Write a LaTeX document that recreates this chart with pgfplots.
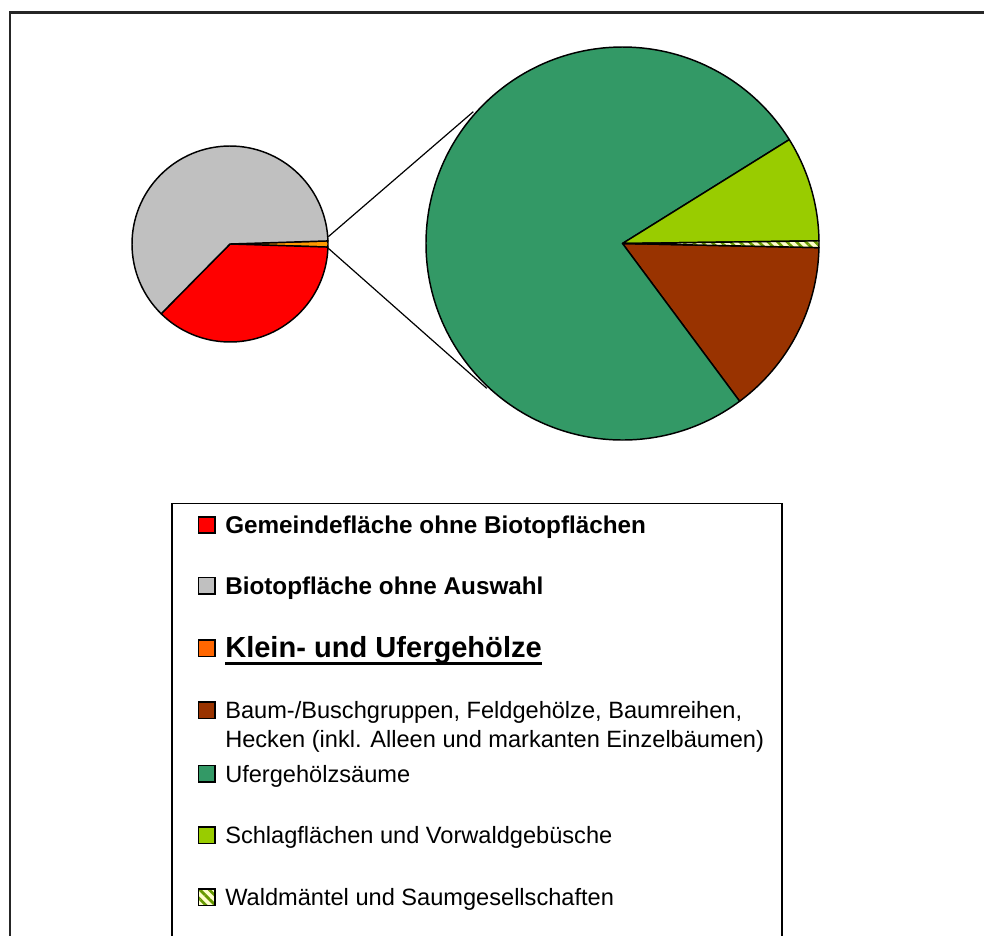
\documentclass[border=0pt]{standalone}
\usepackage{pgfplots}
\pgfplotsset{compat=1.18}
\usepackage{pgfplotstable}
\usetikzlibrary{patterns.meta}
\usepackage{fontspec}
\setmainfont{Liberation Sans}

\definecolor{cRed}{HTML}{FF0000}
\definecolor{cGray}{HTML}{C0C0C0}
\definecolor{cOrange}{HTML}{FF6600}
\definecolor{cOrangeSl}{HTML}{FF9900}
\definecolor{cBrown}{HTML}{993300}
\definecolor{cGreen}{HTML}{339966}
\definecolor{cLime}{HTML}{99CC00}
\definecolor{cPale}{HTML}{FFFFCC}
\definecolor{cStripe}{HTML}{669900}

\tikzset{hatch/.style={preaction={fill=cPale}, pattern={Lines[angle=-45,distance=5pt,line width=2pt]}, pattern color=cStripe}}

% primary pie (percent)
\pgfplotstableread{
name value
Gemeinde 36.9
Biotop 62.1
Klein 1.0
}\primary
% secondary pie (percent of Klein- und Ufergehoelze)
\pgfplotstableread{
name value
Baum 14.5
Ufer 76.3
Schlag 8.65
Wald 0.55
}\secondary

\newcommand\pieslice[6]{% #1 table, #2 row, #3 cx, #4 cy, #5 radius px, #6 style
  \pgfplotstablegetelem{#2}{value}\of{#1}%
  \pgfmathsetmacro\slend{\curang-3.6*\pgfplotsretval}%
  \pgfmathsetmacro\slr{#5*0.75}%
  \edef\doslice{\noexpand\filldraw[#6,line width=1.1pt,line join=round] (axis cs:#3,#4) -- ++(\curang:\slr pt) arc[start angle=\curang, end angle=\slend, radius=\slr pt] -- cycle;}%
  \doslice
  \xdef\curang{\slend}%
}

\newcommand\regfont{\fontsize{17.7}{21}\selectfont}
\newcommand\boldfont{\fontsize{18.2}{21}\selectfont\bfseries}

\begin{document}
\begin{tikzpicture}
\begin{axis}[hide axis, scale only axis, x=0.75pt, y=0.75pt,
  xmin=0, xmax=984, ymin=0, ymax=935, y dir=reverse, clip=false]
\coordinate (BL) at (axis cs:0,935);
\coordinate (TR) at (axis cs:984,0);

% outer frame
\draw[line width=1.7pt, black!85] (axis cs:10,940) -- (axis cs:10,12.5) -- (axis cs:990,12.5);

% primary pie
\xdef\curang{1.8}
\pieslice{\primary}{2}{230}{244}{98}{fill=cOrangeSl}
\pieslice{\primary}{0}{230}{244}{98}{fill=cRed}
\pieslice{\primary}{1}{230}{244}{98}{fill=cGray}

% secondary pie
\xdef\curang{-1.2}
\pieslice{\secondary}{0}{622.5}{243.5}{196.5}{fill=cBrown}
\pieslice{\secondary}{1}{622.5}{243.5}{196.5}{fill=cGreen}
\pieslice{\secondary}{2}{622.5}{243.5}{196.5}{fill=cLime}
\pieslice{\secondary}{3}{622.5}{243.5}{196.5}{hatch}

% connector lines
\addplot[black, no markers, line width=0.9pt] coordinates {(328.3,236.7) (473.3,111.7)};
\addplot[black, no markers, line width=0.9pt] coordinates {(328.3,248.3) (486.7,388.3)};

% legend frame
\draw[line width=1.3pt, black] (axis cs:172,940) -- (axis cs:172,503.5) -- (axis cs:782,503.5) -- (axis cs:782,940);

% legend markers
\filldraw[fill=cRed, line width=0.9pt] (axis cs:198.5,517) rectangle (axis cs:215,533);
\filldraw[fill=cGray, line width=0.9pt] (axis cs:198.5,577.5) rectangle (axis cs:215,594);
\filldraw[fill=cOrange, line width=0.9pt] (axis cs:198.5,640) rectangle (axis cs:215,656.5);
\filldraw[fill=cBrown, line width=0.9pt] (axis cs:198.5,702) rectangle (axis cs:215,718.5);
\filldraw[fill=cGreen, line width=0.9pt] (axis cs:198.5,765.5) rectangle (axis cs:215,782);
\filldraw[fill=cLime, line width=0.9pt] (axis cs:198.5,827) rectangle (axis cs:215,843.5);
\filldraw[hatch, line width=0.9pt] (axis cs:198.5,889) rectangle (axis cs:215,905.5);

% legend texts
\node[anchor=west, inner sep=0pt, font=\boldfont] at (axis cs:225,527) {Gemeindefläche ohne Biotopflächen};
\node[anchor=west, inner sep=0pt, font=\boldfont] at (axis cs:225,588) {Biotopfläche ohne Auswahl};
\node[anchor=west, inner sep=0pt, font=\fontsize{21.8}{25}\selectfont\bfseries] (K) at (axis cs:225,650) {Klein- und Ufergehölze};
\draw[line width=2.2pt] ([yshift=-4.5pt]K.base west) -- ([yshift=-4.5pt]K.base east);
\node[anchor=west, inner sep=0pt, font=\regfont] at (axis cs:225,712) {Baum-/Buschgruppen, Feldgehölze, Baumreihen,};
\node[anchor=west, inner sep=0pt, font=\regfont] at (axis cs:225,741) {Hecken (inkl. Alleen und markanten Einzelbäumen)};
\node[anchor=west, inner sep=0pt, font=\regfont] at (axis cs:225,776) {Ufergehölzsäume};
\node[anchor=west, inner sep=0pt, font=\regfont] at (axis cs:225,837) {Schlagflächen und Vorwaldgebüsche};
\node[anchor=west, inner sep=0pt, font=\regfont] at (axis cs:225,899) {Waldmäntel und Saumgesellschaften};
\end{axis}
\pgfresetboundingbox
\path (BL) rectangle (TR);
\end{tikzpicture}
\end{document}
